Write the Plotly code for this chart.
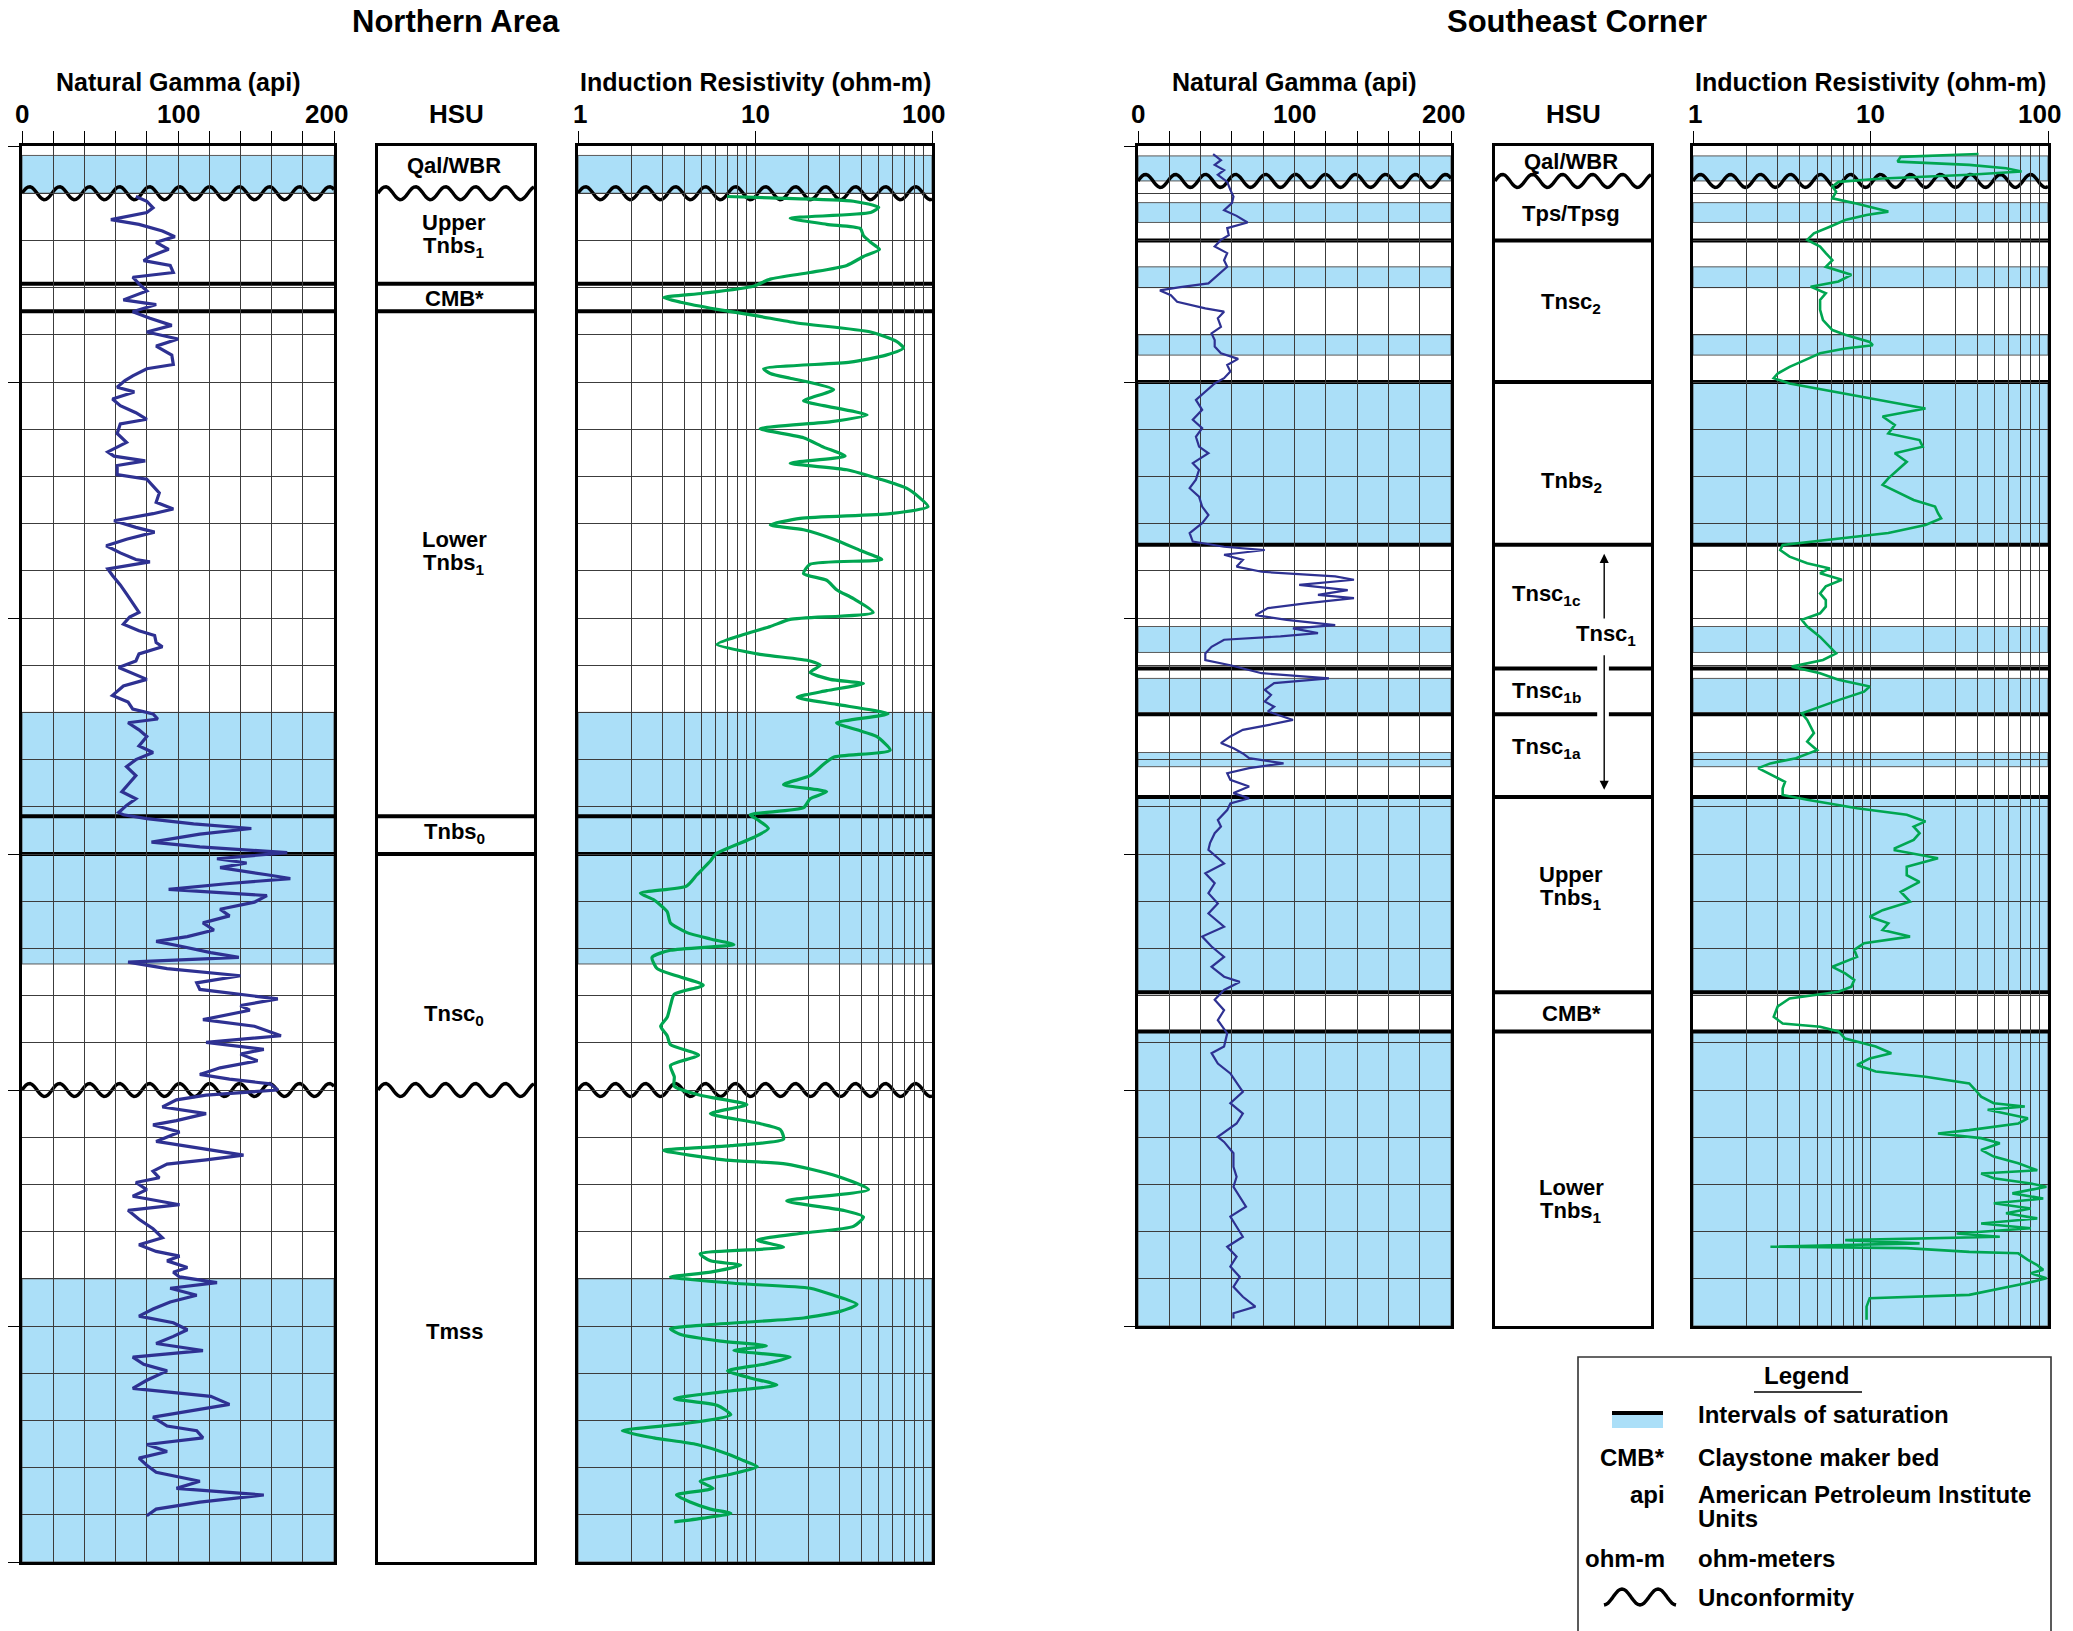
import math
import plotly.graph_objects as go

# ------------------------------------------------------------------
# Data
# ------------------------------------------------------------------
gamma_tick_labels = [0, 100, 200]
resistivity_tick_labels = [1, 10, 100]

# Northern Area -- natural gamma log (api) against depth (ft below top of log)
north_gamma_depth = [
    10.7, 11.7, 13.1, 14.1, 15.6, 16.6, 18.0, 19.2, 20.4, 21.9, 23.4, 24.3, 25.3, 26.8, 27.8,
    29.2, 30.7, 32.6, 33.6, 35.1, 36.5, 38.0, 39.4, 40.9, 42.4, 44.3, 46.3, 47.2, 48.7, 49.7,
    51.1, 52.1, 53.6, 55.0, 56.5, 57.9, 58.9, 60.9, 62.8, 64.8, 65.7, 66.7, 67.7, 69.6, 70.6,
    72.1, 73.5, 75.5, 76.9, 77.9, 79.4, 80.8, 81.8, 83.3, 84.7, 86.2, 87.6, 88.1, 89.6, 91.0,
    93.0, 94.9, 96.9, 98.8, 99.8, 101.3, 102.7, 103.7, 105.2, 106.1, 107.6, 109.1, 110.5,
    111.5, 113.0, 114.4, 116.4, 117.8, 119.3, 120.3, 121.4, 122.2, 123.7, 125.1, 127.1, 128.5,
    130.0, 131.5, 133.4, 134.9, 136.8, 138.3, 139.7, 141.2, 141.7, 142.5, 143.6, 144.6, 145.8,
    147.5, 148.5, 149.7, 151.0, 151.9, 152.9, 154.4, 155.2, 156.3, 157.5, 158.8, 160.2, 161.7,
    163.1, 164.6, 166.1, 167.5, 168.5, 169.5, 170.9, 171.9, 172.9, 174.3, 175.8, 177.3, 178.7,
    180.7, 182.1, 183.1, 185.1, 186.5, 188.5, 189.9, 191.4, 192.4, 193.8, 195.3, 196.7, 197.7,
    198.7, 200.0, 201.1, 202.1, 203.6, 205.0, 206.5, 207.4, 208.9, 210.9, 212.3, 213.8, 214.8,
    215.7, 217.2, 218.6, 219.6, 221.1, 222.5, 224.3, 225.5, 227.4, 229.4, 231.3, 232.8, 234.2,
    235.2, 236.2, 237.6, 238.6, 239.6, 240.8, 242.0, 243.5, 244.9, 246.4, 247.9, 249.3, 250.8,
    252.2, 253.7, 255.2, 256.6, 258.1, 259.5, 261.5, 263.2, 264.9, 266.6, 267.8, 269.3, 271.2,
    272.2, 273.7, 275.1, 276.6, 278.0, 279.5, 281.0, 282.9, 284.4, 285.8, 287.3, 288.8, 290.2,
]
north_gamma_api = [
    73, 80, 84, 80, 57, 75, 90, 98, 86, 94, 82, 78, 95, 97, 71,
    75, 80, 65, 86, 71, 82, 96, 80, 100, 86, 96, 97, 80, 71, 66,
    61, 72, 58, 63, 73, 80, 63, 61, 67, 55, 59, 79, 61, 61, 80,
    84, 88, 86, 97, 84, 59, 73, 85, 67, 54, 63, 73, 82, 55, 58,
    63, 67, 71, 75, 69, 65, 75, 85, 86, 90, 75, 73, 62,
    69, 80, 65, 58, 68, 71, 84, 87, 68, 75, 80, 75, 84,
    73, 67, 73, 69, 64, 73, 67, 62, 65, 80, 110, 147, 114,
    83, 114, 170, 125, 144, 127, 157, 172, 131, 94, 157, 149, 127,
    133, 116, 123, 106, 86, 101, 121, 139, 68, 93, 140, 112, 114,
    164, 140, 146, 116, 149, 166, 118, 155, 140, 151, 127, 114, 133,
    159, 164, 118, 99, 90, 118, 99, 84, 101, 86, 114, 142, 118,
    93, 84, 88, 73, 80, 71, 101, 68, 75, 84, 90, 75, 86,
    101, 93, 106, 97, 101, 125, 95, 112, 95, 84, 75, 97, 106,
    97, 86, 116, 71, 78, 93, 80, 71, 121, 133, 112, 84, 93,
    112, 116, 80, 93, 75, 80, 86, 114, 99, 155, 114, 86, 80,
]

# Northern Area -- induction resistivity log (ohm-m)
north_res_depth = [
    10.7, 11.0, 11.7, 13.0, 14.1, 15.3, 16.6, 17.5, 19.0, 20.4, 21.9, 23.4, 25.3, 26.8, 28.2,
    29.7, 31.2, 32.1, 33.1, 34.6, 36.0, 37.5, 39.4, 41.4, 42.8, 44.3, 45.8, 47.2, 48.2, 49.2,
    50.1, 51.6, 54.0, 55.0, 57.0, 58.4, 59.9, 61.8, 63.8, 65.7, 67.2, 68.6, 70.6, 72.5, 74.5,
    76.4, 77.9, 78.9, 80.3, 81.3, 83.3, 85.7, 87.6, 88.6, 90.6, 92.0, 94.0, 95.9, 98.8, 100.3,
    101.8, 103.7, 105.6, 107.6, 109.1, 110.0, 111.5, 113.0, 113.9, 115.4, 116.8, 118.3, 120.3,
    122.2, 123.7, 125.1, 128.0, 129.5, 131.0, 133.4, 135.3, 136.8, 138.3, 140.2, 141.7, 142.7,
    144.6, 146.5, 150.0, 151.5, 154.4, 156.8, 158.3, 159.7, 162.2, 164.6, 166.6, 168.0, 169.2,
    170.4, 171.9, 174.3, 175.8, 177.8, 179.7, 182.1, 184.6, 186.5, 188.5, 190.4, 192.6, 194.8,
    197.2, 199.2, 201.1, 203.1, 205.0, 207.0, 208.4, 210.4, 211.8, 212.8, 214.8, 215.7, 218.2,
    221.1, 223.5, 225.5, 226.9, 228.9, 230.3, 231.8, 233.3, 234.7, 236.2, 237.1, 238.6, 239.6,
    241.0, 242.0, 243.5, 245.4, 246.9, 248.3, 249.8, 250.6, 251.8, 253.2, 254.2, 255.2, 256.6,
    258.1, 259.5, 261.0, 262.5, 263.9, 265.4, 266.8, 268.8, 270.7, 272.2, 273.7, 275.1, 277.1,
    278.5, 279.8, 281.4, 282.9, 284.4, 285.8, 287.3, 288.8, 289.7, 290.7, 291.5,
]
north_res_ohmm = [
    6.95, 12.2, 36, 50, 45, 15.8, 25.4, 39.4, 41, 45, 50.5, 41, 33, 20.5, 12.2,
    9.8, 5.1, 3.05, 3.8, 6.1, 10.3, 17.3, 45, 63, 69, 55, 34.5, 11.2, 12.2, 15.8,
    20.5, 27.8, 18.8, 24.4, 43, 27, 10.7, 18.8, 24.4, 32.3, 15.8, 33, 51, 71.7, 85,
    95, 58, 18, 12.2, 18.8, 27.8, 39.4, 52, 20.5, 18.8, 25.4, 28.9, 36, 46.5, 15.8,
    12.2, 8.3, 6.1, 10.3, 20.5, 23.4, 20.5, 26.6, 41, 25.4, 17.3, 28.9, 56.5,
    28.9, 37.7, 48.6, 58, 27.8, 24.4, 20.5, 14.5, 25.4, 20.5, 18.8, 9.4, 10.3,
    11.9, 9.8, 6.0, 5.6, 4.7, 4.1, 2.25, 2.68, 3.19, 3.33, 4.1, 5.6, 7.6,
    3.33, 2.62, 2.8, 3.6, 5.1, 3.5, 3.33, 3.19, 2.93, 3.19, 3.33, 4.8, 3.33,
    3.5, 3.5, 4.9, 9.0, 5.6, 10.3, 13.9, 14.5, 7.3, 3.05, 6.7, 15.1, 28.9,
    43.8, 15.1, 31.6, 41, 36, 18.8, 10.3, 14.5, 4.9, 5.6, 8.3, 5.6, 3.33,
    7.9, 20.5, 27.8, 37.7, 30.3, 18.8, 5.1, 3.33, 3.8, 6.4, 11.6, 7.6, 15.8,
    11.2, 7.0, 9.4, 13.3, 6.7, 3.5, 6.1, 7.3, 3.96, 1.78, 2.68, 4.7, 7.0,
    8.6, 10.3, 7.3, 4.9, 5.8, 3.6, 4.3, 5.6, 7.3, 5.1, 3.5,
]

north_saturated = [(2.0, 10.0), (120.0, 173.3), (240.0, 300.0)]
north_hsu_boundaries = [29.2, 35.0, 142.0, 150.0]
north_unconformities = [10.0, 200.0]
north_hsu_names = ["Qal/WBR", "Upper<br>Tnbs<sub>1</sub>", "CMB*", "Lower<br>Tnbs<sub>1</sub>",
                   "Tnbs<sub>0</sub>", "Tnsc<sub>0</sub>", "Tmss"]
north_hsu_name_depth = [4.2, 18.8, 32.3, 86.0, 145.6, 184.1, 251.2]
north_total_depth = 300

# Southeast Corner -- natural gamma log (api)
se_gamma_depth = [
    1.7, 3.0, 4.0, 5.1, 6.1, 7.6, 9.3, 10.7, 12.1, 13.6, 14.8, 16.2, 17.4, 18.9, 19.9,
    21.3, 22.7, 24.2, 25.6, 27.3, 29.1, 29.9, 30.6, 31.6, 33.0, 34.4, 35.1, 36.5, 38.3, 39.7,
    41.1, 42.5, 43.9, 45.1, 46.4, 47.8, 49.2, 50.3, 53.8, 55.9, 58.0, 59.8, 61.6, 63.7, 65.1,
    67.2, 68.6, 70.7, 72.5, 74.3, 76.4, 78.2, 79.9, 82.0, 83.8, 84.9, 85.6, 86.6, 87.7, 89.1,
    90.2, 91.2, 91.9, 93.0, 94.1, 95.1, 95.8, 96.9, 97.9, 99.4, 100.4, 101.5, 102.2, 103.2,
    103.9, 104.6, 106.1, 107.5, 108.9, 110.0, 110.7, 111.7, 112.8, 113.8, 115.2, 116.3, 117.7,
    118.8, 119.8, 121.6, 122.7, 123.7, 125.1, 126.5, 127.6, 128.7, 129.7, 130.8, 131.8, 132.9,
    134.3, 135.7, 137.1, 138.2, 139.3, 140.7, 142.8, 144.2, 145.6, 147.7, 149.1, 152.0, 154.1,
    156.2, 158.3, 160.5, 162.6, 165.4, 167.5, 169.6, 171.8, 173.9, 176.0, 177.1, 178.8, 180.9,
    183.1, 185.2, 188.0, 190.8, 192.2, 194.4, 196.5, 198.6, 200.4, 202.8, 205.0, 207.1, 209.9,
    211.0, 213.4, 216.3, 218.4, 220.5, 222.6, 224.7, 226.8, 229.0, 231.1, 233.2, 235.3, 237.4,
    239.6, 241.7, 243.8, 245.9, 247.3, 248.4,
]
se_gamma_api = [
    48, 53, 49, 55, 51, 57, 59, 61, 60, 55, 63, 70, 57, 58, 53,
    49, 57, 55, 57, 51, 45, 27, 14, 21, 25, 43, 55, 51, 53, 47,
    49, 49, 53, 64, 57, 59, 55, 49, 37, 41, 35, 41, 37, 39, 45,
    35, 39, 37, 33, 39, 41, 45, 41, 33, 35, 55, 81, 55, 67, 63,
    79, 126, 138, 103, 134, 115, 138, 107, 83, 75, 95, 126, 99, 115,
    91, 55, 47, 43, 43, 59, 67, 79, 122, 87, 81, 85, 81,
    87, 83, 99, 83, 67, 59, 53, 61, 67, 71, 93, 71, 57,
    59, 71, 61, 71, 59, 57, 51, 53, 49, 46, 45, 55, 43,
    49, 45, 51, 45, 55, 41, 47, 55, 47, 55, 65, 55, 49,
    55, 51, 57, 55, 47, 51, 59, 63, 67, 59, 67, 63, 51,
    55, 61, 61, 63, 61, 65, 69, 59, 63, 67, 57, 63, 59,
    65, 61, 67, 75, 61, 61,
]

# Southeast Corner -- induction resistivity log (ohm-m)
se_res_depth = [
    1.7, 2.3, 3.3, 4.0, 4.7, 5.4, 6.1, 6.9, 7.6, 8.6, 9.7, 11.1, 12.1, 13.2, 13.9,
    14.6, 15.7, 17.1, 18.5, 19.9, 21.3, 22.7, 24.2, 25.6, 27.3, 28.7, 29.8, 31.2, 32.6, 34.7,
    36.9, 39.0, 40.0, 41.5, 42.2, 42.9, 43.9, 45.3, 46.8, 48.2, 49.2, 50.3, 51.7, 53.8, 55.6,
    57.3, 59.1, 60.9, 62.3, 63.7, 65.1, 66.9, 68.6, 70.4, 71.8, 73.6, 75.0, 76.4, 77.8, 78.9,
    80.3, 82.0, 83.5, 84.5, 85.6, 87.0, 88.4, 89.5, 90.5, 91.9, 93.3, 94.8, 96.2, 97.6, 99.0,
    100.4, 101.8, 104.0, 106.1, 107.5, 108.9, 110.3, 111.7, 113.1, 114.5, 115.6, 117.4, 118.8,
    120.2, 121.6, 123.0, 124.4, 126.2, 128.0, 129.7, 130.8, 131.8, 133.2, 134.7, 136.1, 137.5,
    138.5, 140.3, 141.7, 143.1, 144.2, 145.6, 147.0, 148.8, 149.2, 150.9, 152.7, 154.5, 155.9,
    158.0, 160.1, 161.9, 163.3, 164.7, 166.1, 167.5, 168.9, 170.3, 171.8, 173.9, 175.3, 176.7,
    178.1, 179.2, 180.6, 182.3, 184.5, 185.9, 186.6, 187.6, 189.1, 190.8, 192.2, 193.3, 194.7,
    196.1, 197.2, 198.6, 200.0, 201.4, 202.8, 203.5, 204.2, 205.0, 206.0, 207.1, 208.5, 209.2,
    210.2, 211.3, 212.7, 214.1, 215.5, 217.0, 217.7, 218.7, 219.8, 220.5, 221.9, 223.0, 224.0,
    225.1, 226.1, 227.2, 228.3, 229.3, 230.4, 231.1, 231.8, 232.5, 233.2, 233.5, 234.3, 234.6,
    236.0, 237.1, 238.1, 238.8, 239.9, 241.0, 242.4, 243.4, 244.1, 245.9, 248.7,
]
se_res_ohmm = [
    40.6, 14.8, 14.2, 36, 58, 71, 36, 11.7, 6.6, 6.1, 6.4, 6.1, 8.1, 10.7, 12.6,
    9.5, 7.2, 5.9, 4.8, 4.4, 5.2, 5.6, 6.1, 5.6, 7.8, 6.6, 4.6, 5.6, 5.2, 5.2,
    5.4, 6.1, 7.2, 9.9, 10.3, 7.2, 5.2, 4.3, 3.5, 3.0, 2.85, 3.5, 5.6, 11.7, 20.4,
    11.7, 13.7, 12.6, 18.9, 19.7, 13.7, 16, 14.2, 12.6, 11.7, 14.8, 17.5, 23.1, 24.0, 25,
    20.4, 12.6, 5.6, 3.2, 3.1, 3.5, 4.4, 5.9, 5.2, 6.9, 5.6, 5.2, 5.6, 5.6, 5.2,
    4.1, 4.4, 5.2, 5.9, 6.4, 5.4, 3.6, 5.2, 6.6, 9.9, 9.2, 6.6, 5.2,
    4.1, 4.4, 4.6, 4.8, 4.4, 5.0, 3.8, 2.73, 2.33, 2.73, 3.3, 3.2, 3.2,
    4.4, 8.4, 16, 20.4, 17.5, 18.9, 17.5, 13.7, 13.7, 24, 16, 16, 18.9,
    14.8, 16.7, 11.7, 9.9, 12.6, 11.7, 16.7, 9.2, 8.1, 8.4, 6.1, 7.2, 8.1,
    7.8, 6.6, 3.5, 3.0, 2.85, 3.2, 5.2, 6.6, 7.2, 10.7, 13.1, 9.9, 8.4,
    10.7, 20.4, 36, 39, 42, 49.5, 74, 45.7, 58, 77, 68, 36, 24,
    42, 53.5, 42, 49.5, 68, 87, 42, 49.5, 80, 98, 63, 94, 49.5,
    80, 58, 87, 42, 80, 30.6, 53.5, 7.2, 18.9, 2.73, 16, 36, 68,
    77, 87, 94, 80, 98, 74, 49.5, 36, 9.9, 9.5, 9.5,
]

se_saturated = [(2.1, 7.4), (12.0, 16.2), (25.6, 30.0), (40.0, 44.3), (50.0, 84.5),
                (101.8, 107.3), (112.8, 120.4), (128.5, 131.5), (137.9, 179.3), (187.6, 250.0)]
se_hsu_boundaries = [20.0, 50.0, 84.5, 110.7, 120.4, 137.9, 179.3, 187.6]
se_unconformities = [7.4]
se_hsu_names = ["Qal/WBR", "Tps/Tpsg", "Tnsc<sub>2</sub>", "Tnbs<sub>2</sub>", "Tnsc<sub>1c</sub>",
                "Tnsc<sub>1</sub>", "Tnsc<sub>1b</sub>", "Tnsc<sub>1a</sub>",
                "Upper<br>Tnbs<sub>1</sub>", "CMB*", "Lower<br>Tnbs<sub>1</sub>"]
se_hsu_name_depth = [3.2, 14.3, 33.3, 71.1, 95.1, 103.6, 115.6, 127.6, 156.9, 183.8, 223.3]
se_hsu_name_x = [0.49, 0.49, 0.49, 0.49, 0.33, 0.71, 0.33, 0.33, 0.49, 0.49, 0.49]
se_tnsc1_span = (86.4, 136.4)      # extent of the Tnsc1 arrow
se_tnsc1_label_gap = (100.4, 107.6)
se_total_depth = 250

legend_entries = [
    ("", "Intervals of saturation"),
    ("CMB*", "Claystone maker bed"),
    ("api", "American Petroleum Institute<br>Units"),
    ("ohm-m", "ohm-meters"),
    ("", "Unconformity"),
]

# ------------------------------------------------------------------
# Styling / page geometry (pixels on a 2073 x 1631 page)
# ------------------------------------------------------------------
W, H = 2073, 1631
TOP_PX = 146
PX_PER_FT = 4.72
FONT = "Liberation Sans, Arial, Helvetica, sans-serif"
NAVY = "#2e3192"
GREEN = "#00a651"
SAT_BLUE = "#abdff8"
GRID = "#3c3c3c"
WAVE_PERIOD_PX = 30.0
WAVE_AMP_PX = 6.5
UNIT_FONT = 22
UNIT_LEADING = 25

AREAS = [
    dict(title="Northern Area", title_x=456, gamma=(22, 334), hsu=(378, 534), res=(578, 932),
         total=north_total_depth,
         gdepth=north_gamma_depth, gapi=north_gamma_api, gwidth=3.2,
         rdepth=north_res_depth, rohm=north_res_ohmm, rwidth=3.2, rshape="spline",
         saturated=north_saturated, boundaries=north_hsu_boundaries,
         unconf=north_unconformities, names=north_hsu_names, name_depth=north_hsu_name_depth,
         name_x=[0.49] * len(north_hsu_names), arrow=None),
    dict(title="Southeast Corner", title_x=1577, gamma=(1138, 1451), hsu=(1495, 1651),
         res=(1693, 2048), total=se_total_depth,
         gdepth=se_gamma_depth, gapi=se_gamma_api, gwidth=2.2,
         rdepth=se_res_depth, rohm=se_res_ohmm, rwidth=2.6, rshape="linear",
         saturated=se_saturated, boundaries=se_hsu_boundaries,
         unconf=se_unconformities, names=se_hsu_names, name_depth=se_hsu_name_depth,
         name_x=se_hsu_name_x, arrow=(se_tnsc1_span, se_tnsc1_label_gap, 0.70)),
]


def fx(px):
    return px / W


def fy(py):
    return 1 - py / H


def refs(i):
    s = "" if i == 1 else str(i)
    return "xaxis" + s, "yaxis" + s, "x" + s, "y" + s


fig = go.Figure()
layout = {}
shapes = []
annotations = []


def text(x, y, s, size, xref="paper", yref="paper", xanchor="center", **kw):
    annotations.append(dict(x=x, y=y, xref=xref, yref=yref, text=s, showarrow=False,
                            xanchor=xanchor, yanchor="middle",
                            font=dict(family=FONT, size=size, color="black", weight="bold"), **kw))


def wave_path(px_width, depth, amp_units):
    n = int(px_width / 2)
    pts = []
    for k in range(n + 1):
        xp = px_width * k / n
        y = depth - amp_units * math.sin(2 * math.pi * xp / WAVE_PERIOD_PX)
        pts.append(f"{xp / px_width:.5f},{y:.3f}")
    return "M" + " L".join(pts)


axis_idx = 0
for area in AREAS:
    total = area["total"]
    ydom = [fy(TOP_PX + total * PX_PER_FT), fy(TOP_PX)]
    text(fx(area["title_x"]), fy(21), area["title"], 31)

    for kind in ("gamma", "hsu", "res"):
        axis_idx += 1
        xa, ya, xr, yr = refs(axis_idx)
        x0px, x1px = area[kind]
        xdom = [fx(x0px), fx(x1px)]
        frame = dict(showline=True, linecolor="black", linewidth=2.6, mirror=True,
                     zeroline=False, showticklabels=False, fixedrange=True)
        xax = dict(domain=xdom, anchor=yr, side="top", **frame)
        yax = dict(domain=ydom, anchor=xr, range=[total, 0], **frame)
        grid = dict(showgrid=True, gridcolor=GRID, gridwidth=1.2)
        minor_y = dict(tickmode="linear", tick0=0, dtick=10, ticks="", **grid)

        if kind == "gamma":
            xax.update(range=[0, 200], tickmode="linear", tick0=0, dtick=20, ticks="outside",
                       ticklen=12, tickwidth=1.3, tickcolor="black", **grid)
            yax.update(tickmode="linear", tick0=0, dtick=50, ticks="outside", ticklen=11,
                       tickwidth=1.3, tickcolor="black", minor=minor_y, **grid)
            text(0.5, fy(82), "Natural Gamma (api)", 25, xref=xr + " domain")
            for v, shift in zip(gamma_tick_labels, [0, 0, -8]):
                text(v, fy(114), str(v), 26, xref=xr, xshift=shift)
            fig.add_trace(go.Scatter(x=area["gapi"], y=area["gdepth"], xaxis=xr, yaxis=yr,
                                     mode="lines", line=dict(color=NAVY, width=area["gwidth"]),
                                     showlegend=False, hoverinfo="skip"))
        elif kind == "res":
            xax.update(type="log", range=[0, 2], tickmode="array",
                       tickvals=resistivity_tick_labels, ticks="outside", ticklen=12,
                       tickwidth=1.3, tickcolor="black",
                       minor=dict(tickmode="array",
                                  tickvals=[2, 3, 4, 5, 6, 7, 8, 9, 20, 30, 40, 50, 60, 70, 80, 90],
                                  ticks="", **grid),
                       **grid)
            yax.update(tickmode="linear", tick0=0, dtick=50, ticks="", minor=minor_y, **grid)
            text(0.5, fy(82), "Induction Resistivity (ohm-m)", 25, xref=xr + " domain")
            for v, shift in zip(resistivity_tick_labels, [2, 0, -9]):
                text(math.log10(v), fy(114), str(v), 26, xref=xr, xshift=shift)
            fig.add_trace(go.Scatter(x=area["rohm"], y=area["rdepth"], xaxis=xr, yaxis=yr,
                                     mode="lines",
                                     line=dict(color=GREEN, width=area["rwidth"],
                                               shape=area["rshape"], smoothing=0.6),
                                     showlegend=False, hoverinfo="skip"))
        else:
            xax.update(range=[0, 1], showgrid=False, ticks="")
            yax.update(showgrid=False, ticks="")
            text(0.5, fy(114), "HSU", 26, xref=xr + " domain")

        layout[xa] = xax
        layout[ya] = yax
        xd = xr + " domain"

        # saturated intervals (log panels only)
        if kind != "hsu":
            for top, bot in area["saturated"]:
                shapes.append(dict(type="rect", xref=xd, yref=yr, x0=0, x1=1, y0=top, y1=bot,
                                   fillcolor=SAT_BLUE, line=dict(color="#5a5a5a", width=1),
                                   layer="below"))

        # hydrostratigraphic unit boundaries
        for d in area["boundaries"]:
            segs = [(0, 1)]
            if kind == "hsu" and area["arrow"] is not None:
                (a0, a1), _, ax_frac = area["arrow"]
                if a0 < d < a1:
                    segs = [(0, ax_frac - 0.045), (ax_frac + 0.03, 1)]
            for s0, s1 in segs:
                shapes.append(dict(type="line", xref=xd, yref=yr, x0=s0, x1=s1, y0=d, y1=d,
                                   line=dict(color="black", width=4), layer="below"))

        # unconformities
        for d in area["unconf"]:
            shapes.append(dict(type="path", xref=xd, yref=yr,
                               path=wave_path(x1px - x0px, d, WAVE_AMP_PX / PX_PER_FT),
                               line=dict(color="black", width=3.4), layer="below"))

        # unit names
        if kind == "hsu":
            for name, d, xf in zip(area["names"], area["name_depth"], area["name_x"]):
                lines = name.split("<br>")
                for k, ln in enumerate(lines):
                    text(xf, d, ln, UNIT_FONT, xref=xd, yref=yr,
                         yshift=((len(lines) - 1) / 2 - k) * UNIT_LEADING)
            if area["arrow"] is not None:
                (a0, a1), (g0, g1), ax_frac = area["arrow"]
                for y_from, y_to in ((g0, a0), (g1, a1)):
                    annotations.append(dict(
                        x=ax_frac, y=y_to, xref=xd, yref=yr, ax=0,
                        ay=(y_from - y_to) * PX_PER_FT, axref="pixel", ayref="pixel",
                        text="", showarrow=True, arrowhead=2, arrowsize=1.3,
                        arrowwidth=1.4, arrowcolor="black"))

# ------------------------------------------------------------------
# Legend box (bottom right)
# ------------------------------------------------------------------
shapes.append(dict(type="rect", xref="paper", yref="paper", x0=fx(1578), x1=fx(2051),
                   y0=fy(1645), y1=fy(1357), line=dict(color="#333", width=1.6),
                   fillcolor="rgba(0,0,0,0)", layer="above"))
text(fx(1806), fy(1375), "Legend", 24)
shapes.append(dict(type="line", xref="paper", yref="paper", x0=fx(1754), x1=fx(1862),
                   y0=fy(1392), y1=fy(1392), line=dict(color="black", width=1.6)))
legend_rows_px = [1414, 1457, 1494, 1558, 1597]
for (sym, desc), ypx in zip(legend_entries, legend_rows_px):
    if sym:
        text(fx(1667), fy(ypx), sym, 24, xanchor="right")
    desc_lines = desc.split("<br>")
    for k, ln in enumerate(desc_lines):
        text(fx(1696), fy(ypx + 24 * k), ln, 24, xanchor="left")

# saturation symbol
shapes.append(dict(type="rect", xref="paper", yref="paper", x0=fx(1612), x1=fx(1663),
                   y0=fy(1428), y1=fy(1415), fillcolor=SAT_BLUE, line=dict(width=0)))
shapes.append(dict(type="line", xref="paper", yref="paper", x0=fx(1612), x1=fx(1663),
                   y0=fy(1413), y1=fy(1413), line=dict(color="black", width=4)))
# unconformity symbol
pts = []
for k in range(0, 37):
    xp = 1604 + 72 * k / 36
    yp = 1597 + 8 * math.sin(2 * math.pi * (xp - 1604) / 36 + math.pi / 2)
    pts.append(f"{fx(xp):.5f},{fy(yp):.5f}")
shapes.append(dict(type="path", xref="paper", yref="paper", path="M" + " L".join(pts),
                   line=dict(color="black", width=3.4)))

layout.update(
    width=W, height=H,
    margin=dict(l=0, r=0, t=0, b=0),
    paper_bgcolor="white", plot_bgcolor="white",
    showlegend=False,
    shapes=shapes, annotations=annotations,
    font=dict(family=FONT),
)
fig.update_layout(**layout)
fig.write_html("out.html")
